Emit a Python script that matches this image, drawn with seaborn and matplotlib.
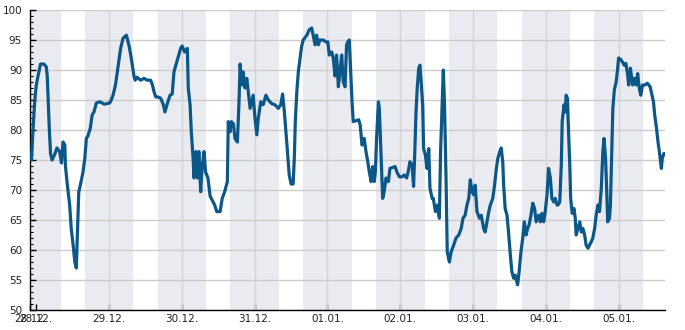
import numpy as np
import pandas as pd
import matplotlib
matplotlib.use("Agg")
import matplotlib.pyplot as plt
import seaborn as sns

# hours since 28.12. 00:00 and relative humidity (%)
hours = [-2.2, -1.6, -1.1, -0.5, 0.0, 0.56, 1.4, 2.5, 3.3, 3.6, 3.9, 4.3, 4.7, 5.2, 6.1, 6.8, 7.7, 8.3,
         8.8, 9.4, 9.6, 10.2, 11.0, 11.5, 12.1, 12.7, 13.2, 13.5, 14.0, 14.6, 15.4, 16.0, 16.5, 17.0,
         17.8, 18.4, 19.0, 19.8, 20.9, 22.5, 24.2, 24.7, 25.3, 26.1, 26.7, 27.3, 27.8, 28.6, 29.7,
         30.6, 31.3, 32.2, 32.6, 33.2, 34.4, 35.5, 36.6, 37.7, 38.3, 38.8, 39.4, 40.1, 41.0, 41.9,
         42.4, 43.2, 44.1, 44.8, 45.4, 46.0, 46.7, 47.6, 48.1, 48.9, 49.8, 50.1, 50.7, 51.1, 51.7,
         52.0, 52.6, 53.1, 53.6, 54.2, 54.7, 55.3, 55.8, 56.6, 57.3, 58.0, 58.8, 59.5, 60.6, 61.3,
         62.1, 63.0, 63.3, 63.9, 64.3, 65.0, 65.5, 66.3, 66.8, 67.2, 67.7, 68.2, 68.8, 69.4, 69.9,
         70.5, 71.0, 71.5, 72.1, 72.7, 73.2, 74.0, 74.8, 75.7, 76.5, 77.6, 78.7, 79.8, 80.6, 81.2,
         81.8, 82.3, 82.9, 83.4, 84.0, 84.7, 85.1, 85.4, 85.9, 86.4, 86.9, 87.5, 88.0, 89.2, 90.0,
         90.8, 91.3, 91.9, 92.4, 93.0, 93.5, 94.6, 95.5, 96.1, 96.6, 97.4, 97.9, 98.5, 99.0, 99.6,
         100.1, 100.7, 101.2, 101.8, 102.3, 102.7, 103.2, 103.8, 104.1, 104.5, 106.3, 106.8, 107.4,
         108.1, 108.7, 109.3, 109.8, 110.4, 110.9, 111.4, 111.8, 112.2, 112.8, 113.1, 113.6, 114.2,
         114.7, 115.3, 116.1, 116.6, 118.3, 118.9, 119.7, 120.6, 121.3, 122.1, 122.6, 123.2, 123.9,
         124.4, 124.8, 125.2, 125.6, 126.1, 126.5, 126.9, 127.4, 127.7, 128.3, 128.8, 129.4, 129.8,
         130.5, 130.9, 131.6, 132.3, 132.9, 133.3, 133.8, 134.2, 134.6, 135.1, 135.5, 136.2, 136.8,
         137.6, 138.4, 139.3, 140.1, 140.7, 141.4, 142.0, 142.6, 143.1, 143.7, 144.2, 144.7, 145.3,
         146.1, 146.7, 147.5, 148.0, 148.6, 149.2, 149.7, 150.5, 151.1, 151.7, 152.2, 152.8, 153.3,
         153.8, 154.1, 154.6, 155.2, 155.7, 156.3, 156.8, 157.4, 157.9, 158.7, 159.2, 159.8, 160.4,
         160.9, 161.5, 162.0, 162.5, 163.1, 163.7, 164.3, 164.8, 165.6, 166.2, 166.7, 167.3, 167.8,
         168.4, 168.9, 169.5, 170.0, 170.6, 171.1, 171.7, 172.0, 172.6, 173.1, 173.4, 174.0, 174.4,
         174.7, 175.1, 175.5, 175.9, 176.2, 176.7, 177.3, 177.7, 178.0, 178.6, 179.2, 179.7, 180.2,
         180.8, 181.3, 181.9, 182.4, 183.0, 183.5, 184.1, 184.6, 185.2, 185.7, 186.3, 186.8, 187.2,
         187.7, 188.1, 188.4, 189.0, 189.3, 189.7, 190.1, 190.6, 191.2, 191.7, 192.0, 192.8, 193.9,
         194.4, 195.0, 195.3, 195.9, 196.6, 197.2, 197.7, 198.3, 198.8, 199.3, 199.9, 200.7, 201.5,
         202.4, 202.9, 203.5, 203.9, 204.5, 205.0, 205.6, 206.1, 206.4, 207.0]
humidity = [76, 75, 80, 85, 87.5, 89, 91, 91, 90.5, 89, 85, 80, 76, 75, 76, 77, 76.4, 74.5,
            78, 77.5, 74, 71, 67.5, 63.6, 61, 58, 57, 62, 69.7, 71, 73, 75.3, 78.6, 79,
            80.3, 82.5, 83, 84.5, 84.7, 84.3, 84.5, 85, 85.8, 87.5, 89.7, 92, 93.6, 95.3, 95.8,
            94, 92, 89, 88.3, 88.8, 88.3, 88.6, 88.3, 88.3, 87.5, 86.4, 85.5, 85.5, 85.3, 84.2,
            83, 84.4, 85.8, 86, 89.7, 90.8, 92, 93.6, 94, 93, 93.6, 87, 84.2, 79.7, 75.3,
            72, 76.4, 72, 76.4, 69.7, 74, 76.4, 73, 72, 69, 68.3, 67.5, 66.4, 66.4, 68.6,
            69.7, 71.4, 81.4, 79.7, 81.4, 81, 78.6, 78, 84.2, 91, 87.5, 89.7, 87, 88.6, 86.4,
            83.6, 84.7, 85.8, 82, 79.2, 82, 84.7, 84.2, 85.8, 85, 84.4, 84.2, 83.6, 84.2, 86,
            83, 79.7, 75.8, 72.5, 71, 71, 75.8, 81.4, 86.4, 89.7, 91.7, 94, 95, 95.8, 96.7,
            97, 95.8, 94.2, 95.8, 94.2, 95, 95, 94.7, 94.7, 92.5, 93, 92, 89, 92.5, 87.2,
            89.7, 92.5, 88, 87.2, 94.2, 94.7, 95, 88, 84.7, 81.4, 81.7, 80.8, 77.5,
            78.6, 76.4, 74.7, 73, 71.4, 73.9, 71.4, 73, 78.6, 84.7, 83.6, 76.9, 68.6,
            69.7, 72, 71.4, 73.6, 73.9, 73, 72.2, 72.2, 72.5, 72, 73, 74.7, 74.2,
            70.6, 76.4, 83, 87, 90.3, 90.8, 88, 84.2, 76.9, 75.8, 73.6, 76.9, 70.3,
            68.6, 68.6, 66.4, 67.5, 65.3, 76.4, 84.2, 90, 84.2, 72, 59.7, 58, 59.7,
            60.8, 62, 62.5, 63.6, 65.3, 65.8, 67.5, 68.6, 71.7, 69.7, 69.2, 70.8, 66.4,
            65.3, 65.8, 63.6, 63, 64.7, 66.4, 67.5, 68.6, 70.8, 73.6, 75.3, 76.4, 77,
            74.7, 70.8, 66.9, 65.8, 63, 59.2, 56.4, 55.3, 55.8, 54.2, 56.4, 59.7, 62,
            64.7, 62.5, 63.6, 64.2, 65.8, 67.8, 66.9, 64.7, 65.8, 64.7, 66.1, 64.7, 66.4,
            69.2, 73.6, 72, 68.6, 68, 68.6, 67.5, 67.5, 68, 74.2, 81.4, 84.2, 83,
            85.8, 85.3, 79.7, 74.2, 68.6, 66.1, 66.9, 65.3, 62.5, 63.6, 64.7, 63, 63.6,
            62.5, 60.8, 60.3, 60.8, 61.4, 62, 63.6, 65.8, 67.5, 66.4, 70.3, 76.4, 78.6,
            75.3, 69.7, 64.7, 65.3, 67.5, 75.8, 83.6, 86.7, 88, 90.3, 92, 91.7, 90.8,
            91.1, 89.2, 87.5, 90.3, 87.5, 88.6, 87.5, 89.4, 87, 85.8, 87.5, 87.5, 87.8,
            87.2, 86.1, 84.7, 82.5, 80.3, 78, 75.8, 73.6, 75.3, 76.1]

day_labels = ["28.12.", "29.12.", "30.12.", "31.12.", "01.01.", "02.01.", "03.01.", "04.01.", "05.01."]
start_label = "28.12."

origin = pd.Timestamp("2023-12-28 00:00")
df = pd.DataFrame({"time": origin + pd.to_timedelta(hours, unit="h"), "humidity": humidity})

sns.set_style("white")
plt.rcParams["font.family"] = ["DejaVu Sans"]

fig = plt.figure(figsize=(6.85, 3.3), dpi=100)
ax = fig.add_axes([30.4 / 685, 20 / 330, (665 - 30.4) / 685, 300 / 330])

x0 = origin - pd.Timedelta(hours=1.95)
x1 = origin + pd.Timedelta(hours=207.3)

# night shading 16:00 -> 08:00
for d in range(-1, 9):
    a = origin + pd.Timedelta(days=d, hours=16)
    b = origin + pd.Timedelta(days=d + 1, hours=8)
    ax.axvspan(max(a, x0), min(b, x1), color="#eaebf1", lw=0, zorder=0)

sns.lineplot(data=df, x="time", y="humidity", ax=ax, color="#0b5788", lw=2.3, zorder=3)

ax.set_xlim(x0, x1)
ax.set_ylim(50, 100)

day_ticks = [origin + pd.Timedelta(days=i) for i in range(len(day_labels))]
ax.set_xticks([x0] + day_ticks)
ax.set_xticklabels([start_label] + day_labels)
ax.set_yticks(np.arange(50, 101, 5))
ax.set_yticks(np.arange(50, 101, 1), minor=True)

ax.grid(axis="y", which="major", color="#cccccc", lw=1, zorder=1)
for t in day_ticks[1:]:
    ax.axvline(t, color="#d4d4d8", lw=1, zorder=1)

for s in ["top", "right"]:
    ax.spines[s].set_visible(False)
for s in ["left", "bottom"]:
    ax.spines[s].set_color("black")
    ax.spines[s].set_linewidth(1)

ax.tick_params(axis="both", which="major", direction="in", length=4, width=1, color="black",
               labelsize=7.5, labelcolor="#222222")
ax.tick_params(axis="y", which="minor", direction="in", length=2, width=0.8, color="black")
ax.tick_params(axis="y", which="both", left=True, pad=6)
ax.tick_params(axis="x", which="major", bottom=True, pad=3)
ax.set_xlabel("")
ax.set_ylabel("")

fig.savefig("out.png", dpi=100)
